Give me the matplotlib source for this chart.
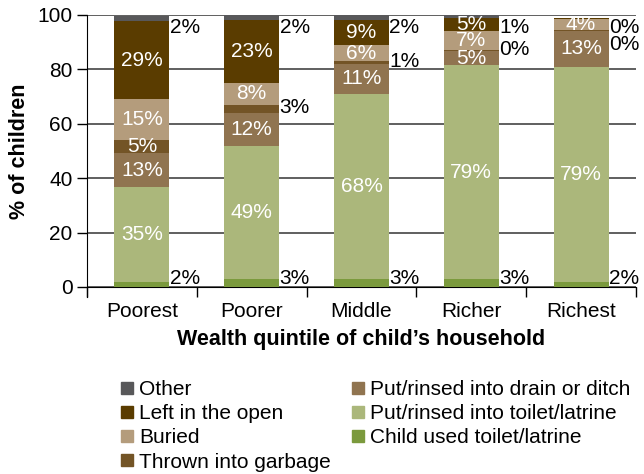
import matplotlib.pyplot as plt
from matplotlib.lines import Line2D
import numpy as np

plt.rcParams['font.family'] = ['Liberation Sans', 'DejaVu Sans']

# Data (bottom to top of each bar), % of children
quintiles = ["Poorest", "Poorer", "Middle", "Richer", "Richest"]
categories = ["Child used toilet/latrine", "Put/rinsed into toilet/latrine",
              "Put/rinsed into drain or ditch", "Thrown into garbage",
              "Buried", "Left in the open", "Other"]
child_used = [1.8, 3, 3, 2.8, 2]
toilet = [34.8, 49, 68, 78.8, 79]
drain = [12.8, 12, 11, 5, 13]
garbage = [4.8, 3, 1, 0.4, 0.4]
buried = [14.8, 8, 6, 7, 4]
left_open = [28.8, 23, 9, 5, 0.4]
other = [2, 2, 2, 1, 0]
series = [child_used, toilet, drain, garbage, buried, left_open, other]
colors = ["#7b9a3d", "#abb77b", "#907450", "#735426", "#b49c7c", "#5a3c00", "#58585a"]

FS = 15

fig = plt.figure(figsize=(6.44, 4.74), dpi=100)
ax = fig.add_axes([87 / 644, 1 - 287 / 474, 549 / 644, 272 / 474])

x = np.arange(len(quintiles)) + 0.5
bottom = np.zeros(len(quintiles))
outside = [[] for _ in quintiles]  # small segments get their label right of the bar
for vals, col in zip(series, colors):
    vals = np.array(vals, dtype=float)
    ax.bar(x, vals, 0.5, bottom=bottom, color=col, zorder=3)
    for i, v in enumerate(vals):
        if v == 0:
            continue
        txt = f"{round(v):.0f}%"
        mid = bottom[i] + v / 2
        if v >= 4:
            ax.text(x[i], mid, txt, ha="center", va="center", color="white",
                    fontsize=FS, zorder=4)
        else:
            outside[i].append((mid, txt))
    bottom += vals

for i, labs in enumerate(outside):
    prev = None
    for mid, txt in sorted(labs, key=lambda t: -t[0]):
        y = min(max(mid + 0.5, 3.3), 95.5)
        if prev is not None and prev - y < 6.3:
            y = prev - 6.3
        prev = y
        ax.text(x[i] + 0.255, y, txt, ha="left", va="center", color="black",
                fontsize=FS, zorder=4, clip_on=False)

ax.set_xlim(0, 5)
ax.set_ylim(0, 100)
ax.set_yticks(range(0, 101, 20))
ax.grid(axis="y", color="#444444", lw=1.2, zorder=0)
ax.set_axisbelow(True)

ax.set_xticks(range(0, 6))
ax.set_xticklabels([])
ax.set_xticks(x, minor=True)
ax.set_xticklabels(quintiles, minor=True)
ax.tick_params(axis="x", which="major", length=7.5, width=1, direction="out")
ax.tick_params(axis="x", which="minor", length=0, pad=10.5, labelsize=FS)
ax.tick_params(axis="y", length=7.5, width=1, pad=3, labelsize=FS)

for s in ["top", "right"]:
    ax.spines[s].set_visible(False)
ax.spines["left"].set_bounds(-3.7, 100)

fig.text((87 + 636) / 2 / 644, 1 - 340 / 474, "Wealth quintile of child\u2019s household",
         ha="center", va="center", fontsize=15.5, fontweight="bold")
fig.text(20 / 644, 1 - 151 / 474, "% of children", rotation=90,
         ha="center", va="center", fontsize=15.5, fontweight="bold")

# legend in two columns, each placed on its own
def handle(k):
    return Line2D([], [], marker="s", ls="none", color=colors[k], markersize=8)

cols = [[6, 5, 4, 3], [2, 1, 0]]
for idx, xpx in zip(cols, [121, 352]):
    leg = fig.legend([handle(k) for k in idx], [categories[k] for k in idx],
                     loc="upper left", bbox_to_anchor=(xpx / 644, 1 - 380 / 474),
                     frameon=False, fontsize=FS, handlelength=0.6,
                     handletextpad=0.27, labelspacing=0.25,
                     borderpad=0, borderaxespad=0)

fig.savefig("out.png", dpi=100)
